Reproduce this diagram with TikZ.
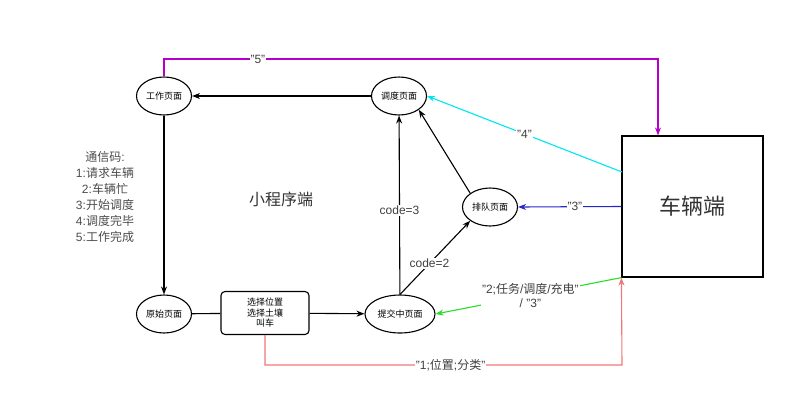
\documentclass[tikz,border=0pt]{standalone}
\usepackage{fontspec}
\setmainfont{Liberation Sans}
\newfontfamily\cjk{Noto Sans CJK SC}
\usetikzlibrary{arrows.meta,shapes.geometric}
\definecolor{cpurple}{RGB}{180,0,200}
\definecolor{ccyan}{RGB}{0,230,240}
\definecolor{cblue}{RGB}{40,40,200}
\definecolor{cgreen}{RGB}{40,220,40}
\definecolor{cred}{RGB}{240,120,120}
\begin{document}
\begin{tikzpicture}[x=1pt,y=-1pt,
  pg/.style={ellipse,draw,line width=1.1pt,minimum width=55pt,minimum height=38pt,inner sep=0pt,font=\cjk\fontsize{9}{10}\selectfont},
  arr/.style={line width=1.1pt,-{Stealth[length=8pt,width=6pt]}},
  carr/.style={line width=1.1pt,-{Stealth[length=8pt,width=6pt]}},
  lbl/.style={fill=white,inner sep=1pt,font=\fontsize{12}{13}\selectfont,text=black!75}]
\useasboundingbox (0,0) rectangle (800,413);
\node[pg] (work) at (164,96) {工作页面};
\node[pg] (disp) at (399,96) {调度页面};
\node[pg] (queue) at (490,207) {排队页面};
\node[pg] (orig) at (164,314) {原始页面};
\node[pg,minimum width=70pt] (sub) at (400,314) {提交中页面};
\node[draw,rounded corners=4pt,line width=1.1pt,minimum width=88pt,minimum height=43pt,align=center,font=\cjk\fontsize{9}{10.5}\selectfont] (sel) at (265,313) {选择位置\\选择土壤\\叫车};
\node[draw,line width=1.2pt,minimum width=141pt,minimum height=141pt,font=\cjk\fontsize{22}{24}\selectfont,text=black!80] (car) at (692.5,206.5) {车辆端};
\node[font=\cjk\fontsize{16}{18}\selectfont,text=black!80] (mini) at (281,199) {小程序端};
\node[align=center,font=\fontsize{12}{16}\selectfont,text=black!70] (legend) at (105,197) {{\cjk 通信码}:\\1:{\cjk 请求车辆}\\2:{\cjk 车辆忙}\\3:{\cjk 开始调度}\\4:{\cjk 调度完毕}\\5:{\cjk 工作完成}};
\draw[arr] (disp) -- (work);
\draw[arr] (work) -- (orig);
\draw[line width=1.1pt] (orig) -- (sel);
\draw[arr] (sel) -- (sub);
\draw[arr] (sub) -- node[lbl,pos=0.47]{code=3} (disp);
\draw[arr] (sub.north) -- node[lbl,pos=0.42]{code=2} (queue.south west);
\draw[arr] (queue.north west) -- (disp.south east);
\coordinate (c5a) at (164,59);
\coordinate (c5b) at (658,59);
\draw[carr,draw=cpurple] (work.north) -- (c5a) -- node[lbl,pos=0.19]{"5"} (c5b) -- (car.north -| c5b);
\coordinate (c4) at (622,172);
\draw[carr,draw=ccyan] (c4) -- node[lbl,pos=0.5]{"4"} (disp.east);
\draw[carr,draw=cblue] (car.west) -- node[lbl,pos=0.45]{"3"} (queue.east);
\draw[carr,draw=cgreen] (car.south west) -- node[lbl,pos=0.49,align=center,font=\fontsize{12}{14}\selectfont]{"2;{\cjk 任务}/{\cjk 调度}/{\cjk 充电}"\\/ "3"} (sub.east);
\coordinate (c1a) at (265,365);
\coordinate (c1b) at (622,365);
\draw[carr,draw=cred] (sel.south) -- (c1a) -- node[lbl,pos=0.52]{"1;{\cjk 位置};{\cjk 分类}"} (c1b) -- (car.south west);
\end{tikzpicture}
\end{document}
